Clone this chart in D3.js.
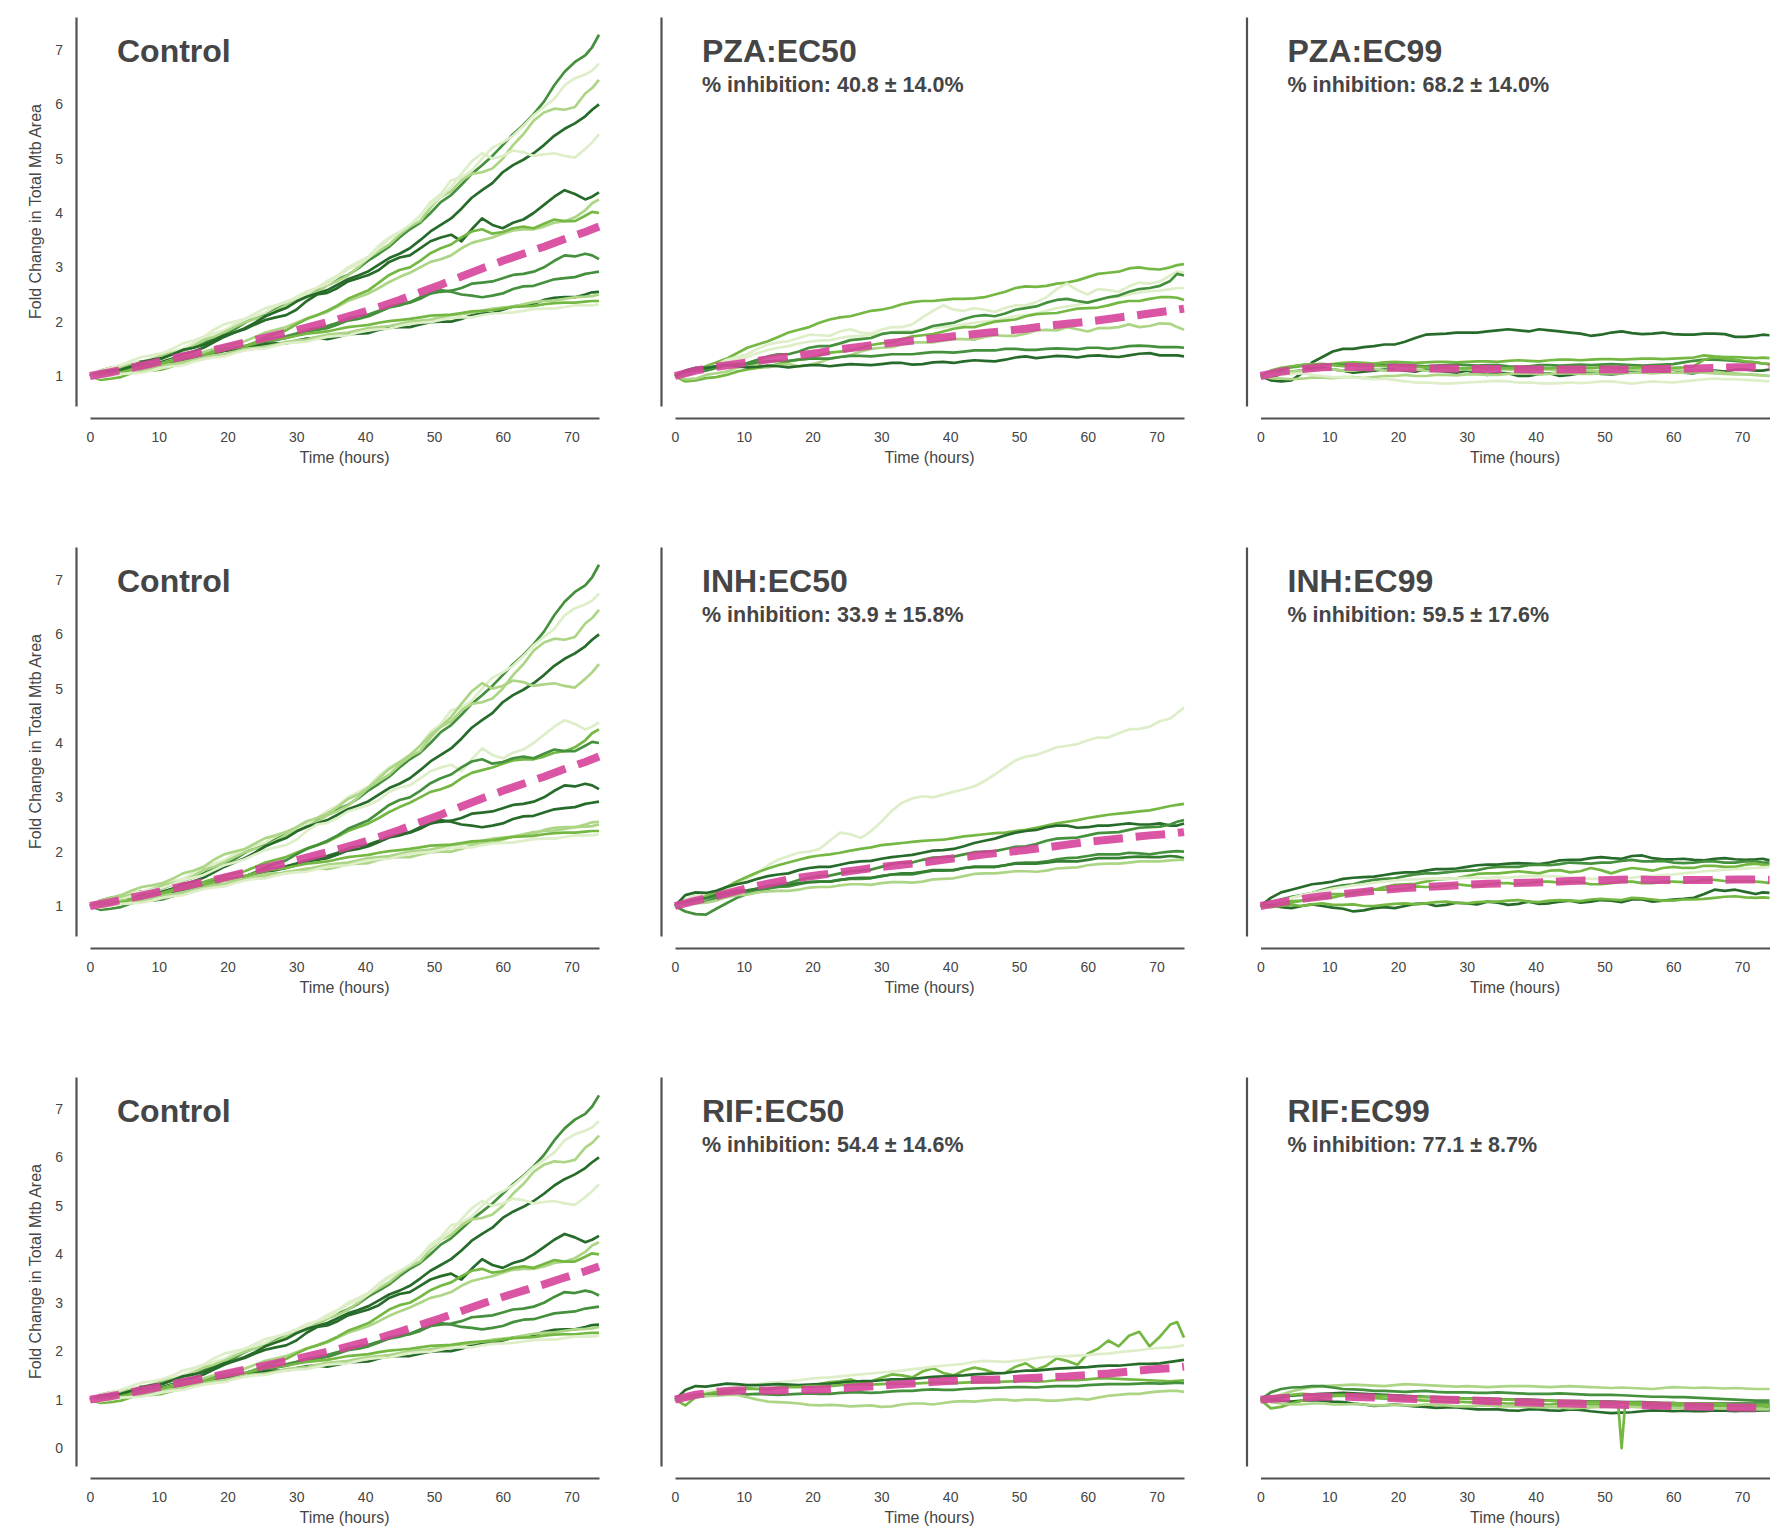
<!DOCTYPE html>
<html><head><meta charset="utf-8">
<script src="https://cdn.jsdelivr.net/npm/d3@7"></script>
<style>
body{margin:0;background:#fff}
svg{display:block}
text{font-family:"Liberation Sans", Arial, Helvetica, sans-serif}
</style>
</head><body>
<svg id="chart" width="1779" height="1537"></svg>
<script>
// ---------------- DATA ----------------
const T = [0,3,6,9,12,15,18,21,24,27,30,33,36,39,42,45,48,51,54,57,60,63,66,69,72,74];
const T_MID = [1.5,4.5,7.5,10.5,13.5,16.5,19.5,22.5,25.5,28.5,31.5,34.5,37.5,40.5,43.5,46.5,49.5,52.5,55.5,58.5,61.5,64.5,67.5,70.5,73];
const X_TICKS = [0,10,20,30,40,50,60,70];
const Y_TICKS = [[1,2,3,4,5,6,7],[1,2,3,4,5,6,7],[0,1,2,3,4,5,6,7]];
const Y_DOMAINS = [[0.448,7.607],[0.448,7.607],[-0.37,7.66]];
const X_DOMAIN = [0,74];
const PALETTE = ['#276b2a','#357f33','#45903d','#74b843','#acd585','#ddeec8'];
const MEAN_COLOR = '#d6449b';

const TITLES = [['Control','PZA:EC50','PZA:EC99'],['Control','INH:EC50','INH:EC99'],['Control','RIF:EC50','RIF:EC99']];
const SUBTITLES = [[null,'% inhibition: 40.8 ± 14.0%','% inhibition: 68.2 ± 14.0%'],
                   [null,'% inhibition: 33.9 ± 15.8%','% inhibition: 59.5 ± 17.6%'],
                   [null,'% inhibition: 54.4 ± 14.6%','% inhibition: 77.1 ± 8.7%']];
const X_LABEL = 'Time (hours)';
const Y_LABEL = 'Fold Change in Total Mtb Area';

const CONTROL = [
 [1.0,1.15,1.22,1.28,1.4,1.52,1.7,1.86,2.07,2.25,2.43,2.6,2.78,2.98,3.25,3.55,3.82,4.2,4.52,4.88,5.25,5.62,6.05,6.6,6.9,7.28],
 [1.0,1.12,1.25,1.32,1.45,1.6,1.78,1.95,2.1,2.28,2.42,2.62,2.85,3.1,3.4,3.65,3.95,4.35,4.65,5.0,5.3,5.6,5.95,6.35,6.55,6.75],
 [1.0,1.1,1.2,1.3,1.42,1.55,1.72,1.9,2.05,2.2,2.38,2.55,2.75,3.0,3.3,3.6,3.85,4.3,4.6,4.75,5.0,5.45,5.85,5.9,6.2,6.45],
 [1.0,1.08,1.15,1.22,1.32,1.45,1.62,1.8,1.98,2.18,2.37,2.52,2.68,2.85,3.05,3.25,3.5,3.78,4.08,4.42,4.75,4.98,5.25,5.55,5.78,6.0],
 [1.0,1.15,1.28,1.38,1.5,1.65,1.85,2.0,2.15,2.3,2.45,2.62,2.82,3.05,3.35,3.65,3.95,4.3,4.72,5.1,5.05,5.12,5.08,5.05,5.18,5.45],
 [1.0,1.1,1.18,1.3,1.4,1.52,1.66,1.8,1.95,2.08,2.22,2.5,2.62,2.8,2.95,3.18,3.35,3.55,3.48,3.9,3.72,3.88,4.15,4.42,4.25,4.38],
 [1.0,1.05,1.12,1.2,1.3,1.4,1.5,1.6,1.72,1.85,1.98,2.12,2.28,2.45,2.62,2.82,3.0,3.15,3.35,3.5,3.62,3.7,3.75,3.85,4.05,4.25],
 [1.0,0.95,1.05,1.1,1.18,1.28,1.4,1.5,1.62,1.78,1.95,2.12,2.3,2.5,2.72,2.95,3.12,3.35,3.55,3.7,3.65,3.75,3.8,3.85,3.95,4.0],
 [1.0,1.05,1.1,1.18,1.25,1.33,1.42,1.5,1.58,1.66,1.75,1.85,1.95,2.05,2.18,2.3,2.45,2.55,2.62,2.72,2.8,2.88,3.0,3.22,3.25,3.15],
 [1.0,1.08,1.12,1.2,1.28,1.35,1.45,1.52,1.6,1.7,1.78,1.88,1.98,2.1,2.2,2.32,2.42,2.58,2.5,2.45,2.52,2.65,2.72,2.8,2.88,2.92],
 [1.0,1.08,1.12,1.2,1.28,1.35,1.42,1.48,1.55,1.6,1.65,1.7,1.72,1.78,1.85,1.9,1.95,2.0,2.05,2.15,2.22,2.3,2.4,2.45,2.5,2.55],
 [1.0,1.02,1.08,1.15,1.22,1.3,1.38,1.45,1.52,1.58,1.65,1.72,1.78,1.84,1.9,1.96,2.02,2.08,2.14,2.2,2.26,2.32,2.38,2.42,2.46,2.5],
 [1.0,1.05,1.12,1.2,1.28,1.36,1.44,1.52,1.6,1.68,1.74,1.8,1.86,1.92,1.98,2.03,2.08,2.12,2.16,2.2,2.24,2.28,2.32,2.35,2.37,2.38],
 [1.0,1.0,1.05,1.1,1.18,1.26,1.34,1.42,1.5,1.56,1.62,1.68,1.74,1.8,1.86,1.92,1.98,2.03,2.08,2.12,2.16,2.2,2.24,2.27,2.3,2.32]
];
const CONTROL_MID = [
 [1.1,1.17,1.27,1.32,1.47,1.6,1.76,1.98,2.14,2.36,2.5,2.71,2.86,3.13,3.38,3.7,4.0,4.33,4.72,5.05,5.45,5.82,6.35,6.78,7.05],
 [1.08,1.2,1.26,1.4,1.5,1.7,1.84,2.05,2.17,2.37,2.5,2.75,3.0,3.2,3.55,3.75,4.2,4.6,4.78,5.2,5.42,5.8,6.1,6.48,6.62],
 [1.02,1.17,1.23,1.38,1.46,1.66,1.8,1.99,2.1,2.3,2.45,2.67,2.85,3.18,3.42,3.75,4.1,4.4,4.72,4.82,5.25,5.7,5.92,5.95,6.3],
 [1.06,1.1,1.2,1.26,1.4,1.52,1.72,1.88,2.1,2.25,2.46,2.58,2.78,2.93,3.17,3.35,3.66,3.9,4.28,4.55,4.88,5.1,5.42,5.65,5.9],
 [1.1,1.2,1.35,1.42,1.6,1.72,1.95,2.05,2.25,2.36,2.56,2.7,2.97,3.18,3.52,3.78,4.15,4.48,4.95,5.0,5.15,5.05,5.1,5.02,5.3],
 [1.07,1.12,1.26,1.33,1.48,1.57,1.75,1.86,2.03,2.12,2.38,2.53,2.74,2.86,3.1,3.22,3.48,3.6,3.7,3.78,3.82,4.0,4.3,4.35,4.3],
 [1.04,1.07,1.17,1.24,1.36,1.44,1.56,1.64,1.8,1.9,2.06,2.18,2.38,2.52,2.73,2.9,3.1,3.22,3.45,3.55,3.68,3.7,3.82,3.92,4.18],
 [0.93,0.98,1.1,1.12,1.25,1.32,1.47,1.54,1.72,1.84,2.05,2.2,2.42,2.58,2.86,3.0,3.26,3.42,3.66,3.62,3.72,3.72,3.88,3.85,4.02],
 [1.04,1.06,1.15,1.2,1.3,1.36,1.47,1.53,1.63,1.7,1.82,1.88,2.02,2.1,2.26,2.36,2.52,2.57,2.7,2.74,2.86,2.92,3.12,3.2,3.22],
 [1.06,1.09,1.17,1.23,1.33,1.38,1.5,1.55,1.67,1.73,1.84,1.92,2.06,2.13,2.28,2.35,2.52,2.55,2.48,2.48,2.6,2.66,2.78,2.82,2.9],
 [1.05,1.1,1.17,1.23,1.32,1.37,1.46,1.5,1.59,1.6,1.69,1.68,1.77,1.79,1.89,1.9,1.99,2.0,2.12,2.16,2.28,2.33,2.44,2.45,2.54],
 [0.98,1.06,1.1,1.2,1.25,1.35,1.4,1.5,1.54,1.63,1.67,1.76,1.8,1.88,1.92,2.0,2.04,2.12,2.16,2.24,2.28,2.36,2.39,2.45,2.47],
 [1.04,1.07,1.17,1.23,1.33,1.39,1.49,1.55,1.65,1.7,1.78,1.82,1.9,1.94,2.01,2.05,2.11,2.13,2.19,2.21,2.27,2.29,2.34,2.35,2.38],
 [0.97,1.04,1.06,1.15,1.2,1.31,1.36,1.47,1.51,1.6,1.63,1.72,1.75,1.84,1.87,1.96,1.99,2.07,2.08,2.15,2.17,2.23,2.24,2.3,2.3]
];
const CONTROL_COLORS = [
 [2,5,4,0,5,0,4,3,2,2,0,4,3,5],
 [2,5,4,0,4,5,3,2,0,0,4,4,3,5],
 [2,5,4,0,5,0,4,3,2,2,0,4,3,5]
];
const CONTROL_MEAN = [1.0,1.07,1.15,1.23,1.32,1.4,1.48,1.57,1.66,1.75,1.84,1.94,2.04,2.15,2.27,2.4,2.54,2.68,2.83,2.98,3.12,3.25,3.38,3.52,3.65,3.75];

const PZA50 = [
 [1.0,1.08,1.25,1.42,1.58,1.72,1.85,1.98,2.08,2.15,2.22,2.32,2.38,2.4,2.42,2.45,2.55,2.65,2.66,2.72,2.82,2.9,2.98,2.97,3.0,3.06],
 [1.0,1.12,1.2,1.35,1.5,1.62,1.7,1.75,1.82,1.8,1.85,1.9,2.08,2.3,2.2,2.22,2.25,2.3,2.45,2.7,2.5,2.58,2.65,2.7,2.85,2.9],
 [1.0,1.08,1.18,1.3,1.42,1.52,1.6,1.65,1.7,1.74,1.78,1.82,1.86,1.9,1.95,2.0,2.06,2.12,2.2,2.28,2.36,2.44,2.5,2.56,2.6,2.62],
 [1.0,1.1,1.15,1.2,1.3,1.4,1.45,1.55,1.6,1.68,1.77,1.8,1.85,1.95,2.05,2.12,2.15,2.25,2.35,2.42,2.35,2.45,2.55,2.62,2.75,2.85],
 [1.0,0.92,0.98,1.08,1.15,1.22,1.3,1.38,1.45,1.52,1.6,1.68,1.75,1.82,1.9,1.95,2.02,2.1,2.15,2.2,2.25,2.3,2.38,2.42,2.45,2.4],
 [1.0,0.95,1.05,1.15,1.2,1.2,1.18,1.25,1.35,1.45,1.52,1.58,1.62,1.65,1.68,1.72,1.74,1.78,1.85,1.9,1.82,1.88,1.95,1.92,1.96,1.85],
 [1.0,1.12,1.18,1.22,1.25,1.28,1.3,1.32,1.35,1.37,1.38,1.4,1.42,1.44,1.45,1.47,1.5,1.48,1.5,1.5,1.52,1.5,1.55,1.55,1.53,1.52],
 [1.0,1.15,1.18,1.18,1.17,1.18,1.18,1.2,1.2,1.21,1.22,1.24,1.22,1.26,1.27,1.28,1.3,1.36,1.35,1.36,1.37,1.36,1.38,1.42,1.38,1.36]
];
const PZA50_MID = [
 [1.02,1.18,1.32,1.52,1.64,1.8,1.9,2.04,2.1,2.2,2.26,2.36,2.38,2.42,2.43,2.5,2.62,2.64,2.7,2.76,2.88,2.92,3.0,2.96,3.04],
 [1.08,1.14,1.3,1.4,1.58,1.64,1.76,1.74,1.86,1.78,1.9,1.95,2.2,2.22,2.25,2.18,2.3,2.36,2.6,2.58,2.6,2.55,2.72,2.74,2.92],
 [1.05,1.12,1.25,1.35,1.48,1.55,1.63,1.66,1.73,1.75,1.81,1.83,1.89,1.92,1.98,2.02,2.1,2.15,2.25,2.31,2.41,2.46,2.54,2.57,2.62],
 [1.08,1.1,1.2,1.24,1.36,1.4,1.52,1.55,1.66,1.7,1.8,1.8,1.92,1.98,2.1,2.1,2.22,2.28,2.4,2.38,2.4,2.48,2.6,2.66,2.88],
 [0.9,0.96,1.02,1.12,1.17,1.27,1.32,1.43,1.47,1.57,1.62,1.73,1.77,1.87,1.9,2.0,2.04,2.14,2.16,2.24,2.26,2.35,2.38,2.45,2.44],
 [0.94,1.02,1.08,1.2,1.16,1.22,1.2,1.32,1.38,1.5,1.53,1.62,1.62,1.68,1.67,1.75,1.74,1.84,1.84,1.86,1.88,1.9,1.9,1.97,1.9],
 [1.08,1.14,1.21,1.22,1.27,1.28,1.32,1.32,1.37,1.36,1.4,1.4,1.44,1.43,1.47,1.47,1.5,1.48,1.51,1.49,1.52,1.52,1.56,1.53,1.53],
 [1.1,1.15,1.2,1.16,1.19,1.16,1.2,1.18,1.22,1.2,1.24,1.21,1.25,1.24,1.29,1.27,1.34,1.33,1.37,1.34,1.38,1.35,1.41,1.38,1.38]
];
const PZA50_COLORS = [3,5,5,2,3,4,2,0];
const PZA50_MEAN = [1.0,1.1,1.17,1.22,1.28,1.33,1.38,1.43,1.49,1.54,1.59,1.63,1.67,1.71,1.75,1.79,1.83,1.87,1.92,1.96,2.0,2.05,2.1,2.15,2.2,2.24];

const PZA99 = [
 [1.0,0.9,1.05,1.35,1.5,1.53,1.58,1.63,1.76,1.78,1.8,1.82,1.86,1.82,1.84,1.8,1.74,1.8,1.79,1.78,1.77,1.76,1.78,1.72,1.74,1.75],
 [1.0,1.1,1.18,1.2,1.24,1.24,1.25,1.25,1.25,1.26,1.26,1.27,1.28,1.28,1.29,1.3,1.3,1.31,1.31,1.32,1.32,1.34,1.36,1.35,1.33,1.33],
 [1.0,1.12,1.2,1.22,1.2,1.18,1.2,1.2,1.18,1.2,1.2,1.2,1.18,1.18,1.2,1.2,1.2,1.22,1.2,1.2,1.22,1.28,1.3,1.28,1.25,1.22],
 [1.0,1.05,1.1,1.15,1.1,1.08,1.12,1.1,1.12,1.08,1.1,1.02,1.05,1.0,1.05,1.02,1.08,1.03,1.08,1.1,1.12,1.05,1.1,1.12,1.1,1.12],
 [1.0,1.05,1.1,1.12,1.1,1.12,1.1,1.12,1.1,1.1,1.12,1.1,1.12,1.1,1.12,1.1,1.1,1.1,1.12,1.1,1.12,1.1,1.08,1.05,1.02,1.0],
 [1.0,0.95,0.95,0.97,0.98,0.96,1.0,1.02,1.0,1.02,1.03,1.02,1.04,1.05,1.04,1.05,1.04,1.05,1.06,1.05,1.06,1.07,1.05,1.03,1.02,1.0],
 [1.0,1.02,1.05,1.0,0.98,0.96,0.95,0.9,0.88,0.86,0.88,0.9,0.9,0.88,0.86,0.88,0.88,0.9,0.86,0.9,0.88,0.92,0.95,0.94,0.92,0.9],
 [1.0,1.15,1.2,1.22,1.18,1.2,1.18,1.18,1.16,1.15,1.14,1.15,1.14,1.15,1.14,1.15,1.15,1.16,1.15,1.16,1.15,1.18,1.35,1.3,1.25,1.22]
];
const PZA99_MID = [
 [0.92,0.92,1.25,1.45,1.5,1.55,1.58,1.7,1.77,1.8,1.8,1.84,1.84,1.86,1.82,1.78,1.76,1.82,1.77,1.8,1.76,1.78,1.77,1.72,1.76],
 [1.06,1.16,1.2,1.22,1.25,1.23,1.26,1.24,1.26,1.25,1.27,1.26,1.29,1.27,1.3,1.29,1.31,1.3,1.32,1.31,1.33,1.38,1.35,1.34,1.34],
 [1.08,1.17,1.21,1.21,1.19,1.19,1.21,1.19,1.19,1.21,1.19,1.2,1.17,1.2,1.19,1.21,1.21,1.21,1.19,1.21,1.25,1.3,1.29,1.26,1.23],
 [0.95,1.08,1.14,1.12,1.06,1.1,1.12,1.08,1.1,1.06,1.06,1.06,1.0,1.04,1.0,1.05,1.04,1.05,1.1,1.08,1.06,1.09,1.08,1.12,1.1],
 [1.03,1.08,1.1,1.12,1.1,1.13,1.1,1.12,1.09,1.12,1.1,1.12,1.1,1.12,1.09,1.11,1.09,1.12,1.1,1.12,1.1,1.09,1.06,1.03,1.01],
 [0.96,0.94,0.97,0.96,0.98,0.98,1.0,1.0,1.02,1.01,1.03,1.02,1.05,1.03,1.05,1.04,1.05,1.05,1.06,1.06,1.06,1.06,1.04,1.03,1.01],
 [1.02,1.04,1.02,0.98,0.97,0.94,0.93,0.88,0.87,0.87,0.89,0.91,0.88,0.87,0.87,0.87,0.9,0.88,0.88,0.89,0.9,0.94,0.94,0.93,0.91],
 [1.1,1.18,1.22,1.2,1.19,1.19,1.18,1.17,1.16,1.14,1.15,1.14,1.15,1.14,1.15,1.15,1.16,1.15,1.16,1.15,1.16,1.3,1.32,1.27,1.23]
];
const PZA99_COLORS = [0,3,2,0,4,4,5,3];
const PZA99_MEAN = [1.0,1.08,1.13,1.16,1.17,1.16,1.15,1.15,1.14,1.14,1.13,1.13,1.13,1.12,1.12,1.12,1.12,1.12,1.12,1.13,1.13,1.14,1.15,1.16,1.16,1.16];

const INH50 = [
 [1.0,1.2,1.25,1.4,1.6,1.85,1.98,2.05,2.35,2.25,2.55,2.9,3.02,3.05,3.15,3.3,3.55,3.75,3.85,3.95,4.05,4.1,4.25,4.3,4.45,4.65],
 [1.0,1.1,1.25,1.45,1.62,1.75,1.85,1.93,1.98,2.05,2.12,2.16,2.2,2.22,2.28,2.32,2.35,2.4,2.48,2.55,2.62,2.68,2.72,2.76,2.84,2.88],
 [1.0,1.25,1.28,1.4,1.5,1.58,1.66,1.72,1.76,1.82,1.87,1.92,1.98,2.03,2.1,2.2,2.3,2.38,2.45,2.48,2.45,2.48,2.52,2.5,2.48,2.52],
 [1.0,1.05,1.15,1.25,1.32,1.4,1.48,1.55,1.6,1.65,1.72,1.8,1.85,1.9,1.95,2.0,2.05,2.1,2.2,2.25,2.3,2.35,2.4,2.45,2.5,2.58],
 [1.0,0.85,0.95,1.15,1.28,1.35,1.4,1.45,1.48,1.5,1.55,1.58,1.62,1.65,1.7,1.72,1.75,1.8,1.82,1.88,1.92,1.95,1.98,1.95,2.0,2.0],
 [1.0,1.12,1.2,1.28,1.32,1.38,1.42,1.45,1.48,1.52,1.55,1.6,1.63,1.66,1.7,1.72,1.75,1.78,1.8,1.82,1.85,1.88,1.9,1.9,1.92,1.88],
 [1.0,1.05,1.1,1.2,1.25,1.28,1.3,1.35,1.38,1.4,1.42,1.44,1.45,1.5,1.55,1.6,1.62,1.64,1.65,1.7,1.75,1.78,1.8,1.82,1.84,1.85]
];
const INH50_MID = [
 [1.12,1.22,1.32,1.5,1.75,1.92,2.0,2.2,2.32,2.38,2.75,2.98,3.0,3.1,3.2,3.42,3.68,3.78,3.92,3.98,4.1,4.18,4.26,4.4,4.55],
 [1.05,1.18,1.35,1.54,1.69,1.8,1.9,1.95,2.02,2.08,2.14,2.18,2.21,2.25,2.3,2.34,2.38,2.44,2.52,2.58,2.65,2.7,2.74,2.8,2.86],
 [1.2,1.24,1.35,1.44,1.55,1.6,1.7,1.72,1.8,1.83,1.9,1.94,2.02,2.05,2.16,2.24,2.35,2.4,2.48,2.44,2.48,2.5,2.5,2.52,2.48],
 [1.04,1.08,1.2,1.27,1.37,1.42,1.52,1.56,1.64,1.67,1.77,1.8,1.89,1.91,1.99,2.01,2.09,2.14,2.24,2.26,2.34,2.36,2.44,2.46,2.55],
 [0.9,0.84,1.05,1.22,1.32,1.36,1.44,1.45,1.5,1.51,1.58,1.58,1.65,1.66,1.72,1.72,1.79,1.8,1.86,1.89,1.95,1.95,1.97,1.98,2.01],
 [1.08,1.14,1.25,1.29,1.36,1.39,1.44,1.45,1.51,1.52,1.58,1.6,1.66,1.66,1.72,1.72,1.78,1.78,1.82,1.82,1.88,1.88,1.91,1.9,1.91],
 [1.03,1.06,1.16,1.21,1.27,1.28,1.34,1.35,1.4,1.39,1.44,1.43,1.49,1.51,1.59,1.6,1.64,1.63,1.69,1.71,1.77,1.78,1.82,1.82,1.85]
];
const INH50_COLORS = [5,3,0,2,2,1,4];
const INH50_MEAN = [1.0,1.1,1.18,1.28,1.37,1.45,1.52,1.57,1.62,1.67,1.72,1.76,1.8,1.85,1.9,1.95,1.99,2.03,2.08,2.13,2.18,2.22,2.26,2.3,2.33,2.36];

const INH99 = [
 [1.0,1.25,1.35,1.42,1.5,1.53,1.57,1.62,1.65,1.68,1.72,1.76,1.78,1.78,1.8,1.85,1.88,1.88,1.92,1.88,1.86,1.85,1.87,1.86,1.86,1.84],
 [1.0,1.12,1.2,1.3,1.38,1.45,1.5,1.55,1.6,1.62,1.65,1.7,1.72,1.75,1.75,1.8,1.78,1.8,1.85,1.82,1.8,1.8,1.82,1.8,1.82,1.8],
 [1.0,1.05,1.1,1.15,1.2,1.28,1.35,1.4,1.45,1.5,1.55,1.6,1.62,1.62,1.65,1.62,1.7,1.6,1.7,1.65,1.72,1.7,1.74,1.72,1.78,1.75],
 [1.0,1.1,1.2,1.28,1.35,1.4,1.45,1.48,1.5,1.5,1.52,1.52,1.52,1.55,1.55,1.52,1.5,1.5,1.52,1.55,1.58,1.62,1.65,1.68,1.7,1.72],
 [1.0,1.05,1.1,1.18,1.22,1.25,1.3,1.32,1.35,1.38,1.38,1.4,1.42,1.42,1.45,1.45,1.4,1.42,1.45,1.42,1.45,1.45,1.48,1.45,1.45,1.42],
 [1.0,0.98,1.0,1.0,0.95,0.92,0.98,1.0,1.05,1.02,1.05,1.08,1.02,1.08,1.05,1.1,1.08,1.1,1.12,1.08,1.12,1.15,1.3,1.3,1.22,1.24],
 [1.0,1.0,1.0,1.05,1.02,1.0,1.02,1.05,1.05,1.08,1.05,1.08,1.1,1.08,1.1,1.1,1.12,1.12,1.15,1.12,1.1,1.12,1.15,1.18,1.15,1.15]
];
const INH99_MID = [
 [1.15,1.3,1.4,1.45,1.52,1.54,1.6,1.62,1.68,1.69,1.75,1.76,1.79,1.77,1.84,1.85,1.9,1.87,1.93,1.86,1.87,1.84,1.88,1.85,1.87],
 [1.06,1.17,1.24,1.35,1.4,1.48,1.51,1.58,1.6,1.64,1.66,1.72,1.72,1.76,1.77,1.79,1.8,1.83,1.82,1.83,1.79,1.82,1.8,1.82,1.8],
 [1.04,1.06,1.14,1.16,1.25,1.3,1.39,1.41,1.49,1.51,1.59,1.6,1.64,1.6,1.66,1.64,1.66,1.66,1.68,1.7,1.7,1.74,1.72,1.76,1.76],
 [1.05,1.15,1.24,1.32,1.38,1.43,1.47,1.49,1.51,1.51,1.52,1.53,1.54,1.55,1.54,1.51,1.5,1.51,1.54,1.57,1.6,1.64,1.67,1.69,1.71],
 [1.0,1.09,1.12,1.22,1.22,1.3,1.3,1.36,1.35,1.4,1.37,1.42,1.4,1.45,1.43,1.44,1.4,1.45,1.42,1.45,1.44,1.48,1.46,1.46,1.44],
 [1.02,0.96,1.03,0.97,0.9,0.96,0.96,1.04,1.0,1.06,1.03,1.06,1.04,1.04,1.08,1.06,1.11,1.07,1.12,1.1,1.13,1.22,1.28,1.26,1.25],
 [0.98,1.02,1.03,1.02,1.03,1.0,1.04,1.03,1.07,1.06,1.07,1.08,1.11,1.07,1.11,1.09,1.13,1.11,1.14,1.1,1.12,1.13,1.17,1.16,1.16]
];
const INH99_COLORS = [0,2,3,5,3,0,3];
const INH99_MEAN = [1.0,1.07,1.13,1.18,1.22,1.26,1.3,1.33,1.35,1.37,1.39,1.41,1.42,1.43,1.44,1.46,1.47,1.48,1.49,1.48,1.48,1.48,1.48,1.49,1.49,1.48];

const RIF50 = [
 [1.0,1.05,1.15,1.2,1.22,1.25,1.28,1.32,1.38,1.35,1.45,1.5,1.58,1.55,1.6,1.62,1.55,1.75,1.7,1.8,1.95,2.22,2.32,2.1,2.55,2.28],
 [1.0,1.1,1.2,1.28,1.32,1.36,1.4,1.45,1.48,1.52,1.56,1.6,1.65,1.7,1.74,1.8,1.78,1.82,1.88,1.9,1.92,1.95,2.0,2.05,2.08,2.12],
 [1.0,1.28,1.3,1.32,1.3,1.32,1.3,1.32,1.35,1.38,1.4,1.42,1.45,1.48,1.5,1.53,1.55,1.6,1.62,1.65,1.67,1.7,1.72,1.74,1.78,1.82],
 [1.0,1.1,1.15,1.2,1.22,1.25,1.26,1.28,1.3,1.32,1.32,1.33,1.34,1.35,1.35,1.36,1.37,1.38,1.38,1.4,1.42,1.44,1.42,1.4,1.38,1.4],
 [1.0,1.05,1.1,1.12,1.12,1.1,1.12,1.12,1.14,1.15,1.15,1.18,1.2,1.2,1.22,1.24,1.25,1.26,1.27,1.28,1.3,1.32,1.32,1.34,1.34,1.34],
 [1.0,1.05,1.08,1.1,1.0,0.95,0.92,0.88,0.88,0.87,0.85,0.9,0.92,0.93,0.97,0.98,1.0,1.0,0.98,1.0,1.0,1.08,1.12,1.15,1.18,1.16]
];
const RIF50_MID = [
 [0.88,1.12,1.16,1.24,1.2,1.3,1.26,1.36,1.42,1.38,1.52,1.46,1.65,1.5,1.66,1.55,1.68,1.62,1.85,1.72,2.05,2.1,2.4,2.3,2.6],
 [1.05,1.16,1.24,1.3,1.35,1.38,1.43,1.46,1.5,1.54,1.58,1.63,1.68,1.72,1.78,1.79,1.8,1.86,1.89,1.91,1.94,1.98,2.02,2.07,2.1],
 [1.2,1.27,1.33,1.3,1.31,1.31,1.31,1.33,1.37,1.38,1.42,1.43,1.47,1.49,1.52,1.54,1.58,1.6,1.64,1.66,1.69,1.7,1.74,1.75,1.8],
 [1.06,1.12,1.18,1.22,1.23,1.26,1.28,1.28,1.32,1.31,1.33,1.33,1.35,1.34,1.36,1.36,1.38,1.37,1.4,1.4,1.44,1.43,1.41,1.39,1.39],
 [1.03,1.08,1.12,1.11,1.11,1.11,1.13,1.12,1.15,1.14,1.17,1.18,1.21,1.2,1.23,1.24,1.26,1.25,1.28,1.28,1.31,1.32,1.33,1.33,1.35],
 [1.03,1.07,1.1,1.05,0.96,0.94,0.89,0.89,0.86,0.88,0.86,0.92,0.9,0.96,0.96,1.0,0.98,1.0,0.98,1.02,1.04,1.1,1.12,1.17,1.18]
];
const RIF50_COLORS = [3,5,0,3,2,4];
const RIF50_MEAN = [1.0,1.1,1.16,1.19,1.19,1.19,1.2,1.21,1.23,1.26,1.29,1.32,1.35,1.38,1.4,1.41,1.42,1.44,1.46,1.48,1.51,1.54,1.58,1.62,1.65,1.68];

const RIF99 = [
 [1.0,1.1,1.22,1.28,1.3,1.3,1.28,1.32,1.3,1.28,1.28,1.26,1.28,1.28,1.26,1.28,1.26,1.24,1.24,1.22,1.26,1.24,1.24,1.24,1.22,1.22],
 [1.0,1.22,1.26,1.28,1.22,1.2,1.18,1.16,1.18,1.15,1.15,1.14,1.14,1.12,1.12,1.12,1.1,1.1,1.08,1.06,1.05,1.04,1.02,1.0,0.98,0.98],
 [1.0,1.05,1.1,1.12,1.14,1.12,1.1,1.08,1.06,1.04,1.02,1.02,1.0,1.0,0.98,0.97,0.96,0.96,0.95,0.94,0.93,0.92,0.92,0.92,0.92,0.92],
 [1.0,0.98,0.98,0.98,0.95,0.9,0.88,0.88,0.85,0.84,0.82,0.8,0.78,0.8,0.78,0.8,0.76,0.72,0.74,0.78,0.76,0.76,0.78,0.76,0.77,0.78],
 [1.0,0.85,0.98,1.05,1.08,1.05,1.02,1.0,0.98,0.96,0.95,0.94,0.92,0.92,0.9,0.92,0.9,0.9,0.9,0.88,0.88,0.86,0.86,0.86,0.86,0.85],
 [1.0,0.92,0.9,0.92,0.9,0.9,0.88,0.88,0.9,0.88,0.86,0.88,0.86,0.85,0.85,0.82,0.84,0.86,0.85,0.84,0.82,0.83,0.82,0.82,0.8,0.8],
 [1.0,1.08,1.12,1.1,1.1,1.08,1.08,1.06,1.05,1.03,1.02,1.0,1.0,0.98,0.98,0.96,0.95,0.95,0.94,0.93,0.93,0.92,0.92,0.9,0.9,0.9]
];
const RIF99_MID = [
 [1.05,1.17,1.26,1.29,1.31,1.29,1.3,1.31,1.29,1.27,1.27,1.27,1.28,1.27,1.27,1.27,1.25,1.25,1.23,1.24,1.25,1.25,1.23,1.23,1.22],
 [1.15,1.25,1.28,1.25,1.21,1.18,1.17,1.17,1.16,1.15,1.14,1.15,1.13,1.12,1.13,1.11,1.1,1.09,1.07,1.06,1.05,1.03,1.01,0.99,0.98],
 [1.03,1.08,1.11,1.13,1.13,1.11,1.09,1.07,1.05,1.03,1.02,1.01,1.0,0.99,0.97,0.97,0.96,0.95,0.95,0.93,0.92,0.92,0.92,0.92,0.92],
 [0.99,0.96,0.99,0.96,0.92,0.87,0.9,0.86,0.83,0.84,0.8,0.8,0.77,0.8,0.77,0.79,0.74,0.73,0.76,0.77,0.77,0.76,0.77,0.77,0.78],
 [0.82,0.92,1.02,1.07,1.07,1.03,1.01,0.99,0.97,0.96,0.94,0.93,0.92,0.91,0.91,0.91,0.9,0.0,0.89,0.88,0.87,0.86,0.86,0.86,0.86],
 [0.95,0.9,0.92,0.9,0.91,0.88,0.89,0.88,0.89,0.86,0.87,0.86,0.86,0.84,0.84,0.83,0.85,0.85,0.84,0.83,0.83,0.82,0.82,0.81,0.8],
 [1.05,1.1,1.11,1.1,1.09,1.08,1.07,1.05,1.04,1.02,1.01,1.0,0.99,0.98,0.97,0.96,0.95,0.94,0.94,0.93,0.92,0.92,0.91,0.9,0.9]
];
const RIF99_COLORS = [4,2,0,0,3,4,3];
// the lime well (index 4) has a single-frame drop at 52.5 h; its neighbouring frames:
const RIF99_DIP = [[52.0,0.9],[53.0,0.88]];
const RIF99_MEAN = [1.0,1.03,1.05,1.06,1.06,1.05,1.04,1.02,1.01,1.0,0.99,0.97,0.96,0.94,0.93,0.92,0.91,0.9,0.89,0.88,0.87,0.86,0.85,0.84,0.83,0.82];

// ---------------- BUILD ----------------
const PANELS = [
 {r:0,c:0,lines:CONTROL,mids:CONTROL_MID,colors:CONTROL_COLORS[0],mean:CONTROL_MEAN},
 {r:0,c:1,lines:PZA50,mids:PZA50_MID,colors:PZA50_COLORS,mean:PZA50_MEAN},
 {r:0,c:2,lines:PZA99,mids:PZA99_MID,colors:PZA99_COLORS,mean:PZA99_MEAN},
 {r:1,c:0,lines:CONTROL,mids:CONTROL_MID,colors:CONTROL_COLORS[1],mean:CONTROL_MEAN},
 {r:1,c:1,lines:INH50,mids:INH50_MID,colors:INH50_COLORS,mean:INH50_MEAN},
 {r:1,c:2,lines:INH99,mids:INH99_MID,colors:INH99_COLORS,mean:INH99_MEAN},
 {r:2,c:0,lines:CONTROL,mids:CONTROL_MID,colors:CONTROL_COLORS[2],mean:CONTROL_MEAN},
 {r:2,c:1,lines:RIF50,mids:RIF50_MID,colors:RIF50_COLORS,mean:RIF50_MEAN},
 {r:2,c:2,lines:RIF99,mids:RIF99_MID,colors:RIF99_COLORS,mean:RIF99_MEAN,extra:{idx:4,pts:RIF99_DIP}}
];

const svg = d3.select('#chart');
const TEXT = '#454545', SPINE = '#505050';
const colX = [90, 675, 1260.5], W = 509;
const rowTop = [17, 547, 1077], H = 389;

PANELS.forEach(p => {
  const x0 = colX[p.c], y0 = rowTop[p.r];
  const x = d3.scaleLinear().domain(X_DOMAIN).range([x0, x0 + W]);
  const y = d3.scaleLinear().domain(Y_DOMAINS[p.r]).range([y0 + H, y0]);
  const g = svg.append('g');

  const xa = g.append('g').attr('transform', `translate(0,${y0 + H + 12})`)
    .call(d3.axisBottom(x).tickValues(X_TICKS).tickSize(0).tickSizeOuter(0).tickPadding(14.5));
  xa.select('.domain').attr('stroke', SPINE).attr('stroke-width', 2.2);
  xa.selectAll('text').attr('font-size', 14).attr('fill', TEXT);
  g.append('text').attr('x', x0 + W / 2).attr('y', y0 + H + 57).attr('text-anchor', 'middle')
    .attr('font-size', 16).attr('fill', TEXT).text(X_LABEL);

  const ya = g.append('g').attr('transform', `translate(${x0 - 14},0)`)
    .call(d3.axisLeft(y).tickValues(p.c === 0 ? Y_TICKS[p.r] : []).tickSize(0).tickSizeOuter(0).tickPadding(13));
  ya.select('.domain').attr('stroke', SPINE).attr('stroke-width', 2.2);
  ya.selectAll('text').attr('font-size', 14).attr('fill', TEXT);
  if (p.c === 0) {
    g.append('text').attr('transform', `translate(${x0 - 49},${y0 + H / 2}) rotate(-90)`)
      .attr('text-anchor', 'middle').attr('font-size', 16).attr('fill', TEXT).text(Y_LABEL);
  }

  const line = d3.line().x(d => x(d[0])).y(d => y(d[1]));
  p.lines.forEach((vals, i) => {
    let pts = T.map((t, k) => [t, vals[k]]).concat(T_MID.map((t, k) => [t, p.mids[i][k]]));
    if (p.extra && p.extra.idx === i) pts = pts.concat(p.extra.pts);
    pts.sort((a, b) => a[0] - b[0]);
    g.append('path').attr('d', line(pts)).attr('fill', 'none')
      .attr('stroke', PALETTE[p.colors[i]]).attr('stroke-width', 2.7)
      .attr('stroke-linejoin', 'round');
  });

  g.append('path').attr('d', line(T.map((t, k) => [t, p.mean[k]]))).attr('fill', 'none')
    .attr('stroke', MEAN_COLOR).attr('stroke-opacity', 0.9).attr('stroke-width', 8)
    .attr('stroke-dasharray', '29.6,12.8');

  g.append('text').attr('x', x0 + 27).attr('y', y0 + 45).attr('font-size', 32)
    .attr('font-weight', 'bold').attr('fill', TEXT).text(TITLES[p.r][p.c]);
  const sub = SUBTITLES[p.r][p.c];
  if (sub) g.append('text').attr('x', x0 + 27).attr('y', y0 + 75).attr('font-size', 21.5)
    .attr('font-weight', 'bold').attr('fill', TEXT).text(sub);
});
</script>
</body></html>
